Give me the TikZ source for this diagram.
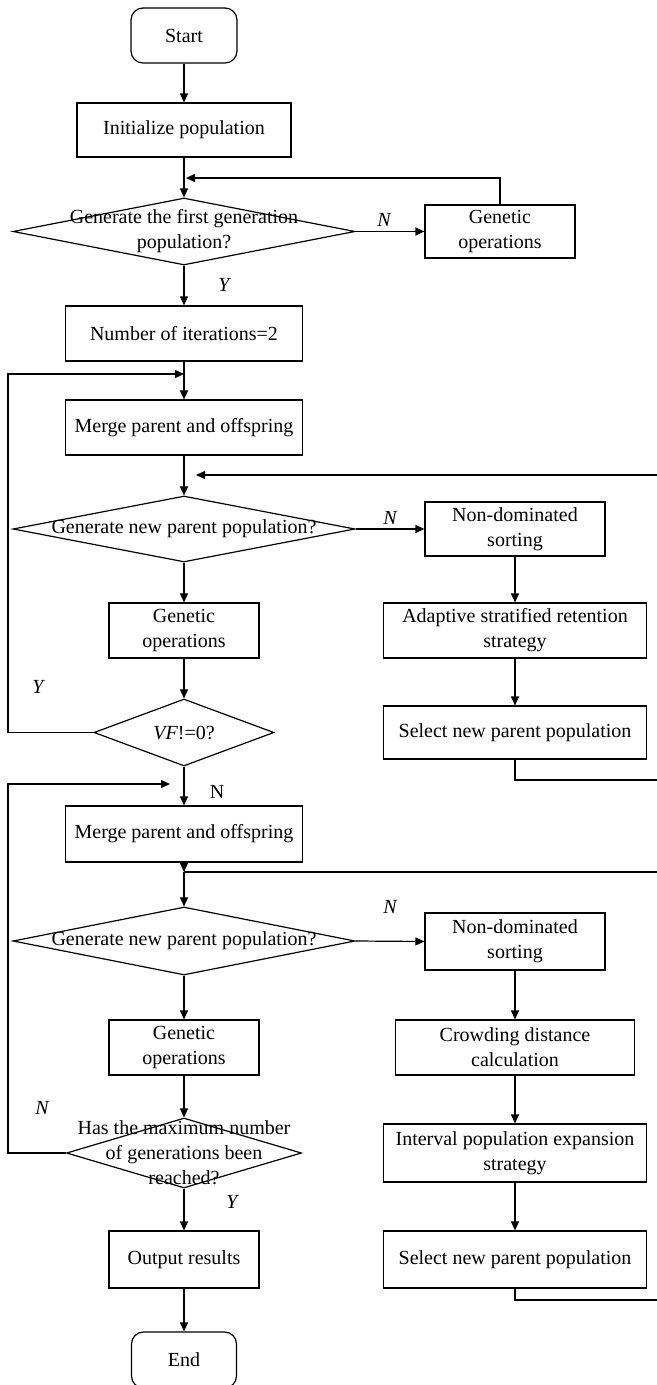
\documentclass[tikz,border=0pt]{standalone}
\usepackage{fontspec}
\setmainfont{Liberation Serif}
\usetikzlibrary{shapes.geometric,arrows.meta}
\begin{document}
\begin{tikzpicture}[x=0.5pt,y=-0.5pt,
  every node/.style={font=\fontsize{10}{12.5}\selectfont},
  box/.style={draw,rectangle,line width=0.6pt,inner sep=0pt,align=center},
  term/.style={box,rounded corners=6pt},
  dec/.style={draw,diamond,line width=0.6pt,inner sep=0pt},
  lbl/.style={font=\fontsize{10}{12.5}\selectfont\itshape,inner sep=0pt},
  arr/.style={-{Triangle[length=4.5pt,width=4pt]},line width=0.6pt},
  ln/.style={line width=0.6pt}]
\useasboundingbox (0,0) rectangle (657,1385);
\clip (0,0) rectangle (657,1385);
% left column
\node[term,minimum width=53pt,minimum height=27.5pt] (start) at (184,35.5) {Start};
\node[box,minimum width=107pt,minimum height=27pt] (init) at (184,130) {Initialize population};
\node[dec,minimum width=171pt,minimum height=33.5pt,label={[align=center]center:{Generate the first generation\\population?}}] (d1) at (184,231.5) {};
\node[box,minimum width=75pt,minimum height=26.5pt] (gen1) at (500,231.5) {Genetic\\operations};
\node[box,minimum width=118.5pt,minimum height=27.5pt] (iter) at (184,333.5) {Number of iterations=2};
\node[box,minimum width=118.5pt,minimum height=27.5pt] (merge1) at (184,427.5) {Merge parent and offspring};
\node[dec,minimum width=171pt,minimum height=33pt,label={center:{Generate new parent population?}}] (d2) at (184,529) {};
\node[box,minimum width=90pt,minimum height=27pt] (nd1) at (515,529) {Non-dominated\\sorting};
\node[box,minimum width=75pt,minimum height=27.5pt] (gen2) at (184,630.5) {Genetic\\operations};
\node[box,minimum width=131.5pt,minimum height=27.5pt] (adapt) at (515,630.5) {Adaptive stratified retention\\strategy};
\node[dec,minimum width=90pt,minimum height=33.5pt,label={center:{\textit{VF}!=0?}}] (vf) at (184,732.5) {};
\node[box,minimum width=131.5pt,minimum height=26.5pt] (sel1) at (515,732.5) {Select new parent population};
\node[box,minimum width=118.5pt,minimum height=28pt] (merge2) at (184,834) {Merge parent and offspring};
\node[dec,minimum width=171pt,minimum height=34pt,label={center:{Generate new parent population?}}] (d3) at (184,941) {};
\node[box,minimum width=90pt,minimum height=28.5pt] (nd2) at (515,941.5) {Non-dominated\\sorting};
\node[box,minimum width=75pt,minimum height=27.5pt] (gen3) at (184,1047.5) {Genetic\\operations};
\node[box,minimum width=119.5pt,minimum height=27.5pt] (crowd) at (515,1047.5) {Crowding distance\\calculation};
\node[dec,minimum width=117.5pt,minimum height=35pt,label={[align=center]center:{Has the maximum number\\of generations been\\reached?}}] (d4) at (184,1153) {};
\node[box,minimum width=131.5pt,minimum height=29pt] (interval) at (515,1153) {Interval population expansion\\strategy};
\node[box,minimum width=75pt,minimum height=28.5pt] (output) at (184,1259.5) {Output results};
\node[box,minimum width=131.5pt,minimum height=28.5pt] (sel2) at (515,1259.5) {Select new parent population};
\node[term,minimum width=52.5pt,minimum height=28pt] (end) at (184,1360) {End};
% coordinates
\coordinate (fb1) at (186,178);
\coordinate (L1) at (8,374);
\coordinate (J1) at (184,374);
\coordinate (R1) at (657,780);
\coordinate (R2) at (657,475);
\coordinate (J2) at (196,475);
\coordinate (L2) at (8,784);
\coordinate (J3) at (170,784);
\coordinate (J4) at (184,872);
\coordinate (R3) at (657,872);
\coordinate (R4) at (657,1300);
% connectors
\draw[arr] (start) -- (init);
\draw[arr] (init) -- (d1);
\draw[arr] (gen1.north) |- (fb1);
\draw[arr] (d1.east) -- (gen1.west);
\draw[arr] (d1.south) -- (iter.north);
\draw[arr] (iter) -- (merge1);
\draw[arr] (vf.west) -| (L1) -- (J1);
\draw[arr] (merge1) -- (d2.north);
\draw[ln] (sel1.south) |- (R1);
\draw[arr] (R2) -- (J2);
\draw[arr] (d2.east) -- (nd1.west);
\draw[arr] (d2.south) -- (gen2.north);
\draw[arr] (gen2) -- (vf.north);
\draw[arr] (nd1) -- (adapt);
\draw[arr] (adapt) -- (sel1);
\draw[arr] (vf.south) -- (merge2.north);
\draw[arr] (d4.west) -| (L2) -- (J3);
\draw[arr] (merge2.south) -- (J4);
\draw[ln] (R3) -- (J4);
\draw[arr] (J4) -- (d3.north);
\draw[arr] (d3.east) -- (nd2.west);
\draw[arr] (d3.south) -- (gen3.north);
\draw[arr] (gen3) -- (d4.north);
\draw[arr] (nd2) -- (crowd);
\draw[arr] (crowd) -- (interval);
\draw[arr] (interval) -- (sel2);
\draw[ln] (sel2.south) |- (R4);
\draw[arr] (d4.south) -- (output.north);
\draw[arr] (output) -- (end);
% labels
\node[lbl] (n1) at (384,220) {N};
\node[lbl] (y1) at (224,285) {Y};
\node[lbl] (n2) at (390,518) {N};
\node[lbl] (y2) at (38,687) {Y};
\node[inner sep=0pt] (n3) at (217,792) {N};
\node[lbl] (n4) at (390,907) {N};
\node[lbl] (n5) at (42,1108) {N};
\node[lbl] (y3) at (232,1202) {Y};
\end{tikzpicture}
\end{document}
